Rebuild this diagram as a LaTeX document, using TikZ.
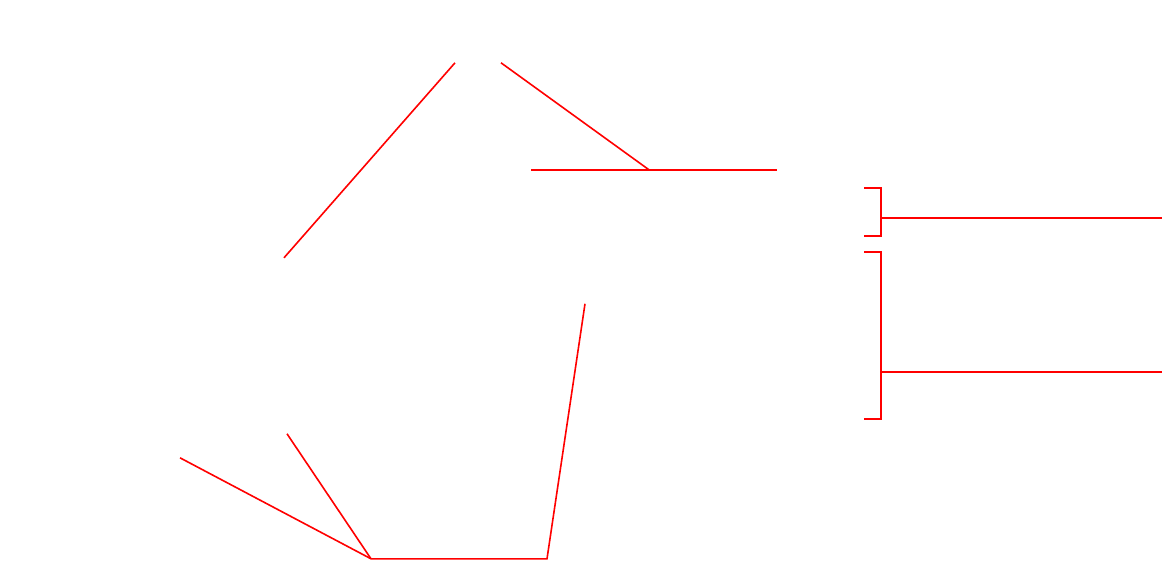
\documentclass[tikz,border=0pt]{standalone}
\begin{document}
\begin{tikzpicture}[x=1pt,y=-1pt,redline/.style={draw=red,line width=1.6pt}]
\useasboundingbox (0,0) rectangle (1162,560);
\begin{scope}[yshift=-0.8pt]
% top-left diagonal
\coordinate (a1) at (284,257);
\coordinate (a2) at (455,62);
% top-right diagonal and horizontal
\coordinate (b1) at (501,62);
\coordinate (b2) at (649,169);
\coordinate (h1) at (531,169);
\coordinate (h2) at (777,169);
% bracket 1
\coordinate (c1) at (864,187);
\coordinate (c2) at (881,187);
\coordinate (c3) at (881,235);
\coordinate (c4) at (864,235);
\coordinate (c5) at (881,217);
\coordinate (c6) at (1162,217);
% bracket 2
\coordinate (d1) at (864,251);
\coordinate (d2) at (881,251);
\coordinate (d3) at (881,418);
\coordinate (d4) at (864,418);
\coordinate (d5) at (881,371);
\coordinate (d6) at (1162,371);
% bottom
\coordinate (e1) at (180,457);
\coordinate (e2) at (287,433);
\coordinate (e3) at (371,558);
\coordinate (e4) at (547,558);
\coordinate (e5) at (585,303);
\end{scope}

\draw[redline] (a1) -- (a2);
\draw[redline] (b1) -- (b2);
\draw[redline] (h1) -- (h2);
\draw[redline] (c1) -- (c2) -- (c3) -- (c4);
\draw[redline] (c5) -- (c6);
\draw[redline] (d1) -- (d2) -- (d3) -- (d4);
\draw[redline] (d5) -- (d6);
\draw[redline] (e1) -- (e3);
\draw[redline] (e2) -- (e3);
\draw[redline] (e3) -- (e4) -- (e5);
\end{tikzpicture}
\end{document}
